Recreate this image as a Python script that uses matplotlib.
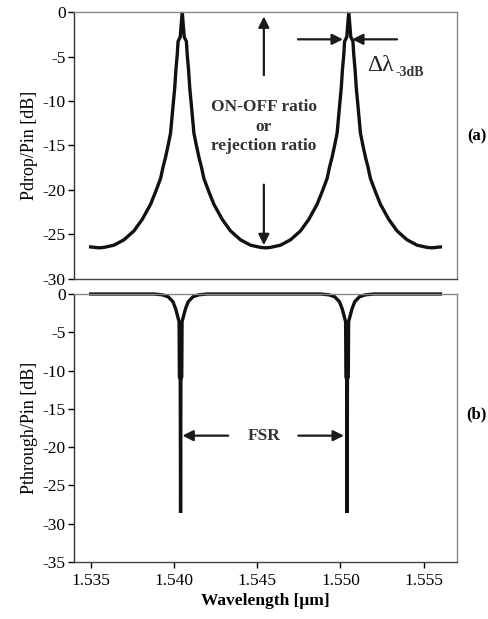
import matplotlib.pyplot as plt
import numpy as np

plt.rcParams['font.family'] = ['Liberation Serif', 'DejaVu Serif']
plt.rcParams['axes.unicode_minus'] = False

# drop port: one-sided peak shape (offset from resonance in um, dB)
drop_offset = [0.0, 0.00012, 0.00025, 0.0003, 0.00038, 0.00045, 0.00055, 0.0007, 0.00085, 0.001,
               0.00115, 0.0013, 0.0016, 0.0019, 0.0024, 0.0029, 0.0035, 0.0041, 0.0047, 0.005, 0.0055]
drop_db = [0.0, -2.8, -3.3, -4.8, -6.5, -8.5, -10.5, -13.6, -15.0, -16.3,
           -17.4, -18.7, -20.2, -21.6, -23.3, -24.6, -25.6, -26.2, -26.45, -26.5, -26.4]
drop_peaks = [1.5405, 1.5505]
drop_bounds = [1.535, 1.5455, 1.556]

# through port: one-sided dip shape
thru_offset = [0.0, 0.00002, 0.00007, 0.00009, 0.00014, 0.0002, 0.0003, 0.00046, 0.00075, 0.0011, 0.0016,
               0.005, 0.0054, 0.0056]
thru_db = [-28.6, -11.2, -10.8, -3.6, -3.2, -2.7, -1.9, -1.0, -0.35, -0.1, 0.0,
           0.0, 0.0, 0.0]
thru_peaks = [1.5404, 1.5504]
thru_bounds = [1.535, 1.5454, 1.556]

wl_ticks = [1.535, 1.540, 1.545, 1.550, 1.555]


def build(peaks, offset, db, bounds):
    off = np.array(offset)
    val = np.array(db)
    xs, ys = [], []
    for p, lo, hi in zip(peaks, bounds[:-1], bounds[1:]):
        x = np.concatenate([p - off[::-1], p + off[1:]])
        y = np.concatenate([val[::-1], val[1:]])
        m = (x >= lo - 1e-9) & (x <= hi + 1e-9)
        xs.append(x[m])
        ys.append(y[m])
    return np.concatenate(xs), np.concatenate(ys)


fig = plt.figure(figsize=(4.89, 6.19), dpi=100)
ax1 = fig.add_axes([0.1513, 0.5493, 0.7833, 0.4313])
ax2 = fig.add_axes([0.1513, 0.0921, 0.7833, 0.4329])

x1, y1 = build(drop_peaks, drop_offset, drop_db, drop_bounds)
x2, y2 = build(thru_peaks, thru_offset, thru_db, thru_bounds)

ax1.plot(x1, y1, color='#111111', lw=2.4, solid_joinstyle='miter', clip_on=False)
ax2.plot(x2, y2, color='#111111', lw=2.4, solid_joinstyle='miter', clip_on=False)

for ax, ymin in ((ax1, -30), (ax2, -35)):
    ax.set_xlim(1.534, 1.557)
    ax.set_ylim(ymin, 0)
    ax.set_yticks(range(ymin, 1, 5))
    ax.tick_params(axis='y', direction='out', length=4, width=1, labelsize=12.5, pad=2)
    ax.spines['left'].set_color('#333333')
    ax.spines['bottom'].set_color('#444444')
    ax.spines['top'].set_color('#888888')
    ax.spines['right'].set_color('#888888')
    for s in ax.spines.values():
        s.set_linewidth(1.0)

ax1.tick_params(axis='x', bottom=False, labelbottom=False)
ax2.set_xticks(wl_ticks)
ax2.set_xticklabels(['%.3f' % t for t in wl_ticks])
ax2.tick_params(axis='x', direction='out', length=4, width=1, labelsize=12.5, pad=4)

ax1.set_ylabel('Pdrop/Pin [dB]', fontsize=13, labelpad=3)
ax2.set_ylabel('Pthrough/Pin [dB]', fontsize=13, labelpad=3)
ax2.set_xlabel('Wavelength [\u03bcm]', fontsize=12.5, fontweight='bold', labelpad=3)

arr = dict(arrowstyle='-|>', mutation_scale=16, lw=1.6, color='#1a1a1a', shrinkA=0, shrinkB=0)

# ON-OFF ratio arrows and text
ax1.annotate('', xy=(1.5454, -0.5), xytext=(1.5454, -7.1), arrowprops=arr)
ax1.annotate('', xy=(1.5454, -26.2), xytext=(1.5454, -19.4), arrowprops=arr)
ax1.text(1.5454, -12.9, 'ON-OFF ratio\nor\nrejection ratio', ha='center', va='center',
         fontsize=12.5, fontweight='bold', color='#333333', linespacing=1.3)

# -3 dB bandwidth arrows
ax1.annotate('', xy=(1.55015, -3.07), xytext=(1.54745, -3.07), arrowprops=arr)
ax1.annotate('', xy=(1.5507, -3.07), xytext=(1.5534, -3.07), arrowprops=arr)
ax1.text(1.5516, -6.6, '\u0394\u03bb', fontsize=17, va='baseline', ha='left', color='#222222')
ax1.text(1.55328, -7.2, '-3dB', fontsize=10, fontweight='bold', va='baseline', ha='left', color='#333333')

# FSR arrows
ax2.annotate('', xy=(1.54051, -18.5), xytext=(1.54326, -18.5), arrowprops=arr)
ax2.annotate('', xy=(1.55021, -18.5), xytext=(1.54747, -18.5), arrowprops=arr)
ax2.text(1.5454, -18.5, 'FSR', ha='center', va='center', fontsize=12.5, fontweight='bold', color='#333333')

fig.text(0.975, 0.779, '(a)', ha='center', va='center', fontsize=12, fontweight='bold')
fig.text(0.975, 0.330, '(b)', ha='center', va='center', fontsize=12, fontweight='bold')

fig.savefig('out.png', dpi=100)
plt.close(fig)
